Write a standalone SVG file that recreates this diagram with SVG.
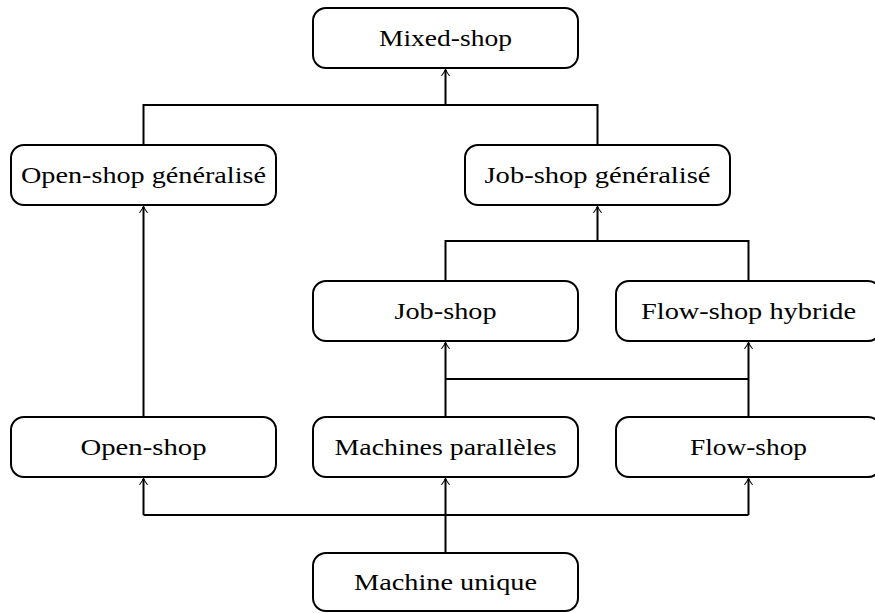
<svg xmlns="http://www.w3.org/2000/svg" width="875" height="613" viewBox="0 0 875 613">
  <style>
    .box { fill: #ffffff; stroke: #000000; stroke-width: 2; }
    .lbl { font-family: "Liberation Serif", "DejaVu Serif", serif; font-size: 24px; fill: #000000; text-anchor: middle; }
    .wire { fill: none; stroke: #000000; stroke-width: 2; }
    .arr { fill: none; stroke: #000000; stroke-width: 2; marker-end: url(#tip); }
  </style>
  <defs>
    <marker id="tip" viewBox="-6 -5 8 10" refX="0" refY="0" markerWidth="8" markerHeight="10" markerUnits="userSpaceOnUse" orient="auto">
      <path d="M -5.5 -3.8 Q -2 -0.8 0.8 0 Q -2 0.8 -5.5 3.8" fill="none" stroke="#000000" stroke-width="1.1" stroke-linecap="round"/>
    </marker>
  </defs>

  <rect width="875" height="613" fill="#ffffff"/>

  <!-- connectors -->
  <g id="connectors">
    <!-- to Mixed-shop -->
    <path class="wire" d="M 143.5 145 V 105 H 597.5 V 145"/>
    <path class="arr" d="M 445.5 105 V 70"/>
    <!-- Open-shop to Open-shop généralisé -->
    <path class="arr" d="M 143.5 417 V 207"/>
    <!-- to Job-shop généralisé -->
    <path class="wire" d="M 445.5 281 V 241 H 748.5 V 281"/>
    <path class="arr" d="M 597.5 241 V 207"/>
    <!-- Machines parallèles / Flow-shop to Job-shop / Flow-shop hybride -->
    <path class="wire" d="M 445.5 379 H 748.5"/>
    <path class="arr" d="M 445.5 417 V 343"/>
    <path class="arr" d="M 748.5 417 V 343"/>
    <!-- from Machine unique -->
    <path class="wire" d="M 143.5 515 H 748.5"/>
    <path class="arr" d="M 445.5 553 V 479"/>
    <path class="arr" d="M 143.5 515 V 479"/>
    <path class="arr" d="M 748.5 515 V 479"/>
  </g>

  <g id="mixed-shop">
    <rect class="box" x="313" y="8" width="265" height="60" rx="13"/>
    <text class="lbl" x="445.5" y="46" textLength="133" lengthAdjust="spacingAndGlyphs">Mixed-shop</text>
  </g>

  <g id="open-shop-generalise">
    <rect class="box" x="11" y="145" width="265" height="60" rx="13"/>
    <text class="lbl" x="143.5" y="183" textLength="245" lengthAdjust="spacingAndGlyphs">Open-shop généralisé</text>
  </g>

  <g id="job-shop-generalise">
    <rect class="box" x="465" y="145" width="265" height="60" rx="13"/>
    <text class="lbl" x="597.5" y="183" textLength="226" lengthAdjust="spacingAndGlyphs">Job-shop généralisé</text>
  </g>

  <g id="job-shop">
    <rect class="box" x="313" y="281" width="265" height="60" rx="13"/>
    <text class="lbl" x="445.5" y="319" textLength="102" lengthAdjust="spacingAndGlyphs">Job-shop</text>
  </g>

  <g id="flow-shop-hybride">
    <rect class="box" x="616" y="281" width="265" height="60" rx="13"/>
    <text class="lbl" x="748.5" y="319" textLength="215" lengthAdjust="spacingAndGlyphs">Flow-shop hybride</text>
  </g>

  <g id="open-shop">
    <rect class="box" x="11" y="417" width="265" height="60" rx="13"/>
    <text class="lbl" x="143.5" y="455" textLength="126" lengthAdjust="spacingAndGlyphs">Open-shop</text>
  </g>

  <g id="machines-paralleles">
    <rect class="box" x="313" y="417" width="265" height="60" rx="13"/>
    <text class="lbl" x="445.5" y="455" textLength="222" lengthAdjust="spacingAndGlyphs">Machines parallèles</text>
  </g>

  <g id="flow-shop">
    <rect class="box" x="616" y="417" width="265" height="60" rx="13"/>
    <text class="lbl" x="748.5" y="455" textLength="117" lengthAdjust="spacingAndGlyphs">Flow-shop</text>
  </g>

  <g id="machine-unique">
    <rect class="box" x="313" y="553" width="265" height="58" rx="13"/>
    <text class="lbl" x="445.5" y="590" textLength="183" lengthAdjust="spacingAndGlyphs">Machine unique</text>
  </g>
</svg>
